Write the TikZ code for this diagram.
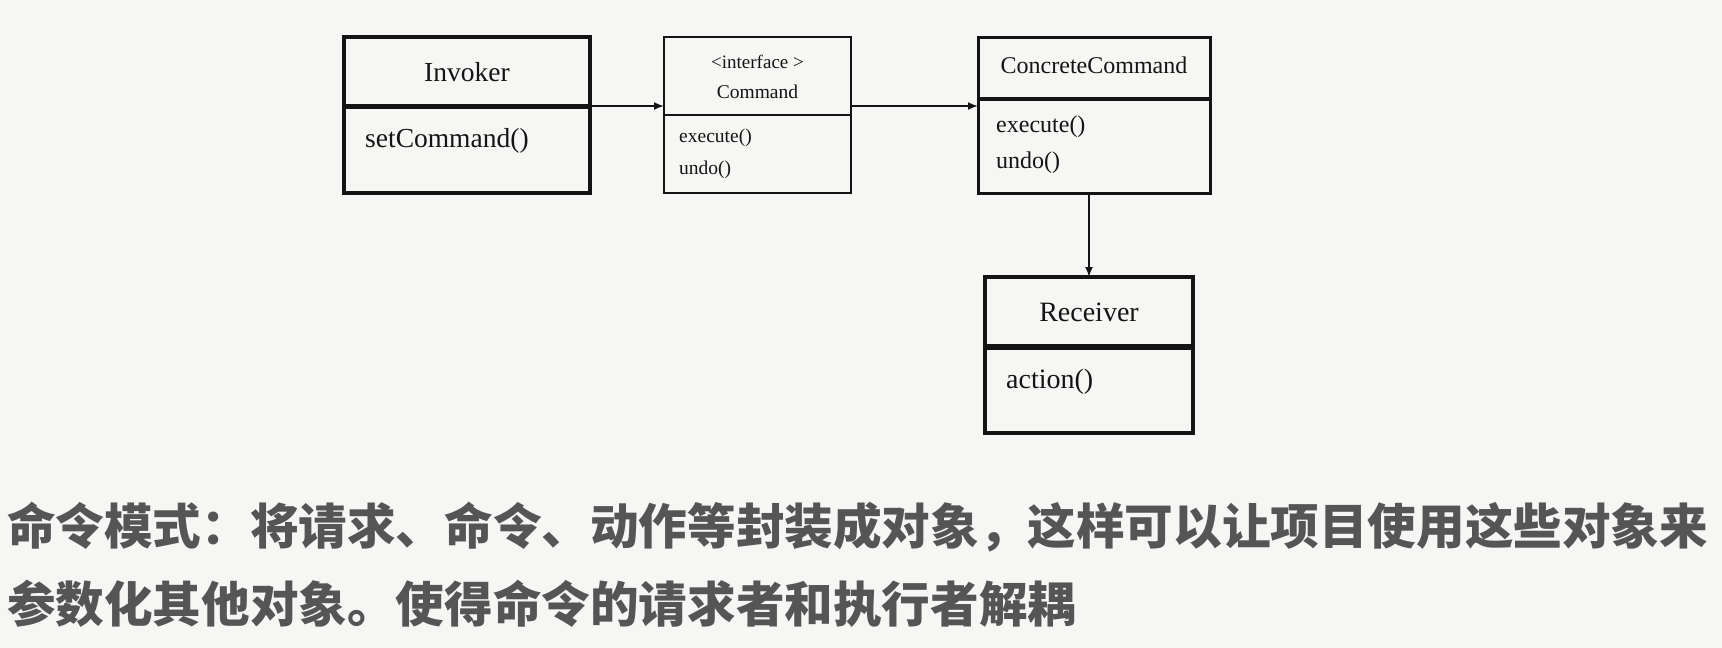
\documentclass[tikz,border=0pt]{standalone}
\usepackage{fontspec}
\setmainfont{Liberation Serif}
\newfontfamily\cjk{Noto Sans CJK SC}
\usetikzlibrary{arrows.meta,calc}
\definecolor{bg}{RGB}{246,246,244}
\definecolor{ink}{RGB}{20,20,20}
\definecolor{cjkgray}{RGB}{85,85,85}
\tikzset{
  classbox/.style={draw=ink, anchor=north west, inner sep=0pt, outer sep=0pt},
  lbl/.style={inner sep=0pt, text=ink},
  arr/.style={draw=ink, line width=1.8pt, -{Latex[length=10pt,width=8pt]}},
  cjktext/.style={inner sep=0pt, anchor=west, text=cjkgray, font=\cjk\bfseries\fontsize{48.6pt}{58pt}\selectfont}
}
\begin{document}
\begin{tikzpicture}[x=1pt,y=-1pt]
\path[fill=bg,use as bounding box] (0,0) rectangle (1722,648);

% Invoker
\node[classbox, line width=3.5pt, minimum width=246pt, minimum height=156pt] (inv) at (344,37) {};
\draw[ink, line width=5pt] ([yshift=-69pt]inv.north west) -- ([yshift=-69pt]inv.north east);
\coordinate (invdiv) at ([yshift=-69pt]inv.north east);
\node[lbl, font=\fontsize{27.5pt}{32pt}\selectfont] (invN) at (467,72) {Invoker};
\node[lbl, anchor=west, font=\fontsize{27.5pt}{32pt}\selectfont] (invM) at (365,141) {setCommand()};

% Command
\node[classbox, line width=2.5pt, minimum width=187pt, minimum height=156pt] (cmd) at (664,37) {};
\draw[ink, line width=2.5pt] ([yshift=-78pt]cmd.north west) -- ([yshift=-78pt]cmd.north east);
\node[lbl, font=\fontsize{19pt}{23pt}\selectfont] (cmdS) at (757.5,62) {<interface >};
\node[lbl, font=\fontsize{19.5pt}{23pt}\selectfont] (cmdN) at (757.5,92) {Command};
\node[lbl, anchor=west, font=\fontsize{19.5pt}{23pt}\selectfont] (cmdM1) at (679,138) {execute()};
\node[lbl, anchor=west, font=\fontsize{19.5pt}{23pt}\selectfont] (cmdM2) at (679,170) {undo()};

% ConcreteCommand
\node[classbox, line width=3pt, minimum width=232pt, minimum height=156pt] (cc) at (978,37) {};
\draw[ink, line width=4pt] ([yshift=-62pt]cc.north west) -- ([yshift=-62pt]cc.north east);
\node[lbl, font=\fontsize{24pt}{29pt}\selectfont] (ccN) at (1094,65) {ConcreteCommand};
\node[lbl, anchor=west, font=\fontsize{24pt}{29pt}\selectfont] (ccM1) at (996,127) {execute()};
\node[lbl, anchor=west, font=\fontsize{24pt}{29pt}\selectfont] (ccM2) at (996,163) {undo()};

% Receiver
\node[classbox, line width=3.5pt, minimum width=208pt, minimum height=156pt] (rec) at (985,277) {};
\draw[ink, line width=6pt] ([yshift=-70pt]rec.north west) -- ([yshift=-70pt]rec.north east);
\node[lbl, font=\fontsize{28pt}{33pt}\selectfont] (recN) at (1089,312) {Receiver};
\node[lbl, anchor=west, font=\fontsize{28pt}{33pt}\selectfont] (recM) at (1006,382) {action()};

% connectors
\draw[arr] (invdiv) -- (invdiv -| cmd.west);
\draw[arr] (invdiv -| cmd.east) -- (invdiv -| cc.west);
\draw[arr] ([yshift=-2pt]cc.south -| recN.north) -- (rec.north -| recN.north);

% description
\node[cjktext] (t1) at (7,527) {命令模式：将请求、命令、动作等封装成对象，这样可以让项目使用这些对象来};
\node[cjktext] (t2) at (7,604) {参数化其他对象。使得命令的请求者和执行者解耦};
\end{tikzpicture}
\end{document}
